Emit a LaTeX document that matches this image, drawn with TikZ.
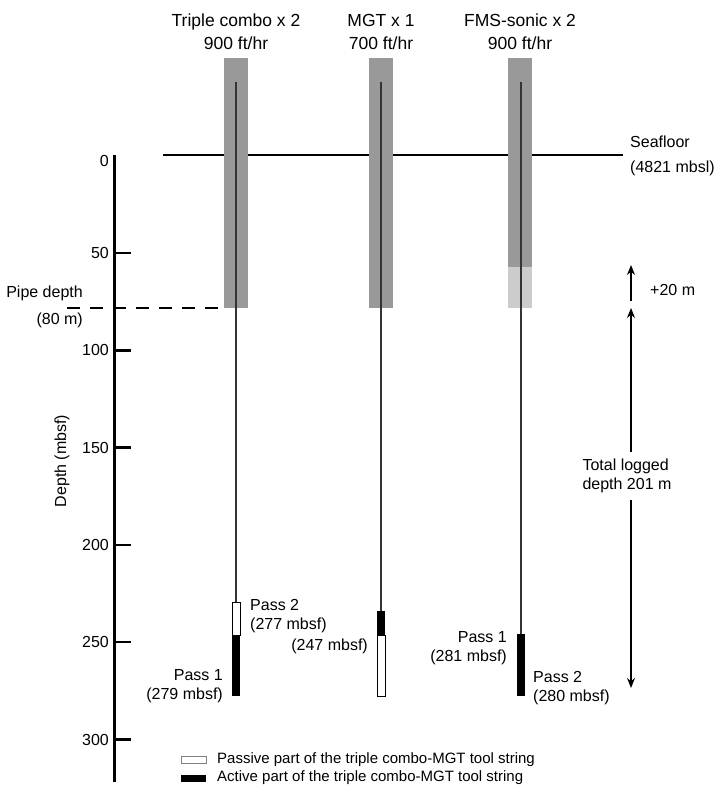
\documentclass[tikz,border=0pt]{standalone}
\usepackage{fontspec}
\setmainfont{Liberation Sans}
\usetikzlibrary{arrows.meta}
\definecolor{bargray}{HTML}{999999}
\definecolor{lightbar}{HTML}{CCCCCC}
\definecolor{cablegray}{HTML}{333333}
\tikzset{
  lbl/.style={font=\fontsize{16}{19}\selectfont, inner sep=0pt},
  titlelbl/.style={font=\fontsize{17.5}{23}\selectfont, inner sep=0pt, align=center},
  smalllbl/.style={font=\fontsize{15}{18}\selectfont, inner sep=0pt},
  cable/.style={cablegray, line width=2pt},
  passive/.style={draw=black, fill=white, line width=0.8pt, minimum width=8pt, inner sep=0pt, anchor=north},
  active/.style={fill=black, minimum width=8pt, inner sep=0pt, anchor=north},
  tick/.style={line width=2.5pt},
}
\begin{document}
\begin{tikzpicture}[x=1pt, y=-1pt, >={Stealth[length=10pt,width=8pt]}]
\useasboundingbox (0,0) rectangle (723,795);
% titles
\node[titlelbl] (tcTitle) at (236,31.5) {Triple combo x 2\\900 ft/hr};
\node[titlelbl] (mgtTitle) at (381,31.5) {MGT x 1\\700 ft/hr};
\node[titlelbl] (fmsTitle) at (520,31.5) {FMS-sonic x 2\\900 ft/hr};
% seafloor and pipe depth
\coordinate (sfW) at (163,155);
\coordinate (sfE) at (623,155);
\draw[line width=1.5pt] (sfW) -- (sfE);
\node[lbl, anchor=west] (sfLbl) at (630,142) {Seafloor};
\node[lbl, anchor=west] (sfDepth) at (630,168) {(4821 mbsl)};
\coordinate (pipeW) at (67,308);
\coordinate (pipeE) at (226,308);
\draw[line width=1.3pt, dash pattern=on 13pt off 10pt] (pipeW) -- (pipeE);
\node[lbl, anchor=east] (pipeLbl) at (83,293) {Pipe depth};
\node[lbl, anchor=east] (pipeDepth) at (83,320) {(80 m)};
% open hole shafts
\fill[bargray] (224,58) rectangle (248,308);
\fill[bargray] (369,58) rectangle (393,308);
\fill[bargray] (508,58) rectangle (532,267);
\fill[lightbar] (508,267) rectangle (532,308);
% tool strings
\node[passive, minimum height=33pt] (tcPas) at (236,602) {};
\node[active, minimum height=61pt] (tcAct) at (236,635) {};
\node[active, minimum height=24pt] (mgtAct) at (381,611) {};
\node[passive, minimum height=61pt] (mgtPas) at (381,635) {};
\node[active, minimum height=62pt] (fmsAct) at (521,634) {};
\coordinate (tcTop) at (236,82);
\coordinate (mgtTop) at (381,82);
\coordinate (fmsTop) at (521,82);
\draw[cable] (tcTop) -- (tcPas.north);
\draw[cable] (mgtTop) -- (mgtAct.north);
\draw[cable] (fmsTop) -- (fmsAct.north);
% pass labels
\node[lbl, align=left, anchor=west] (tcPass2) at (250,616.5) {Pass 2\\(277 mbsf)};
\node[lbl, align=right, anchor=east] (tcPass1) at (223,686) {Pass 1\\(279 mbsf)};
\node[lbl, anchor=east] (mgtPass) at (368,646) {(247 mbsf)};
\node[lbl, align=right, anchor=east] (fmsPass1) at (507,648) {Pass 1\\(281 mbsf)};
\node[lbl, align=left, anchor=west] (fmsPass2) at (533,688) {Pass 2\\(280 mbsf)};
% depth axis
\coordinate (axTop) at (114.5,155);
\coordinate (axBot) at (114.5,782);
\draw[line width=2.5pt] (axTop) -- (axBot);
\node[lbl, anchor=east] (d0) at (109,161) {0};
\foreach \d in {50,100,...,300}{
  \coordinate (tk\d) at (114.5,{155.7+1.946*\d});
  \draw[tick] (tk\d) -- ++(16,0);
  \node[lbl, anchor=east] (d\d) at ([xshift=-5.5pt]tk\d) {\d};
}
\node[lbl, rotate=90] (axLbl) at (62,461) {Depth (mbsf)};
% logged interval
\coordinate (plusBot) at (631,301);
\coordinate (plusTop) at (631,265);
\draw[->, line width=1.3pt] (plusBot) -- (plusTop);
\node[lbl, anchor=west] (plusLbl) at (650,290) {+20 m};
\coordinate (totTop) at (631,308);
\coordinate (totBot) at (631,688);
\draw[<->, line width=1.3pt] (totTop) -- (totBot);
\node[lbl, align=left, fill=white, inner xsep=2pt, inner ysep=7pt] (totLbl) at (627,476) {Total logged\\depth 201 m};
% legend
\node[draw=gray, fill=white, line width=0.8pt, minimum width=25pt, minimum height=7pt, inner sep=0pt] (legPas) at (193.5,759.5) {};
\node[fill=black, minimum width=25pt, minimum height=7pt, inner sep=0pt] (legAct) at (193.5,778.5) {};
\node[smalllbl, anchor=west] (legPasLbl) at (217,760) {Passive part of the triple combo-MGT tool string};
\node[smalllbl, anchor=west] (legActLbl) at (217,778) {Active part of the triple combo-MGT tool string};
\end{tikzpicture}
\end{document}
